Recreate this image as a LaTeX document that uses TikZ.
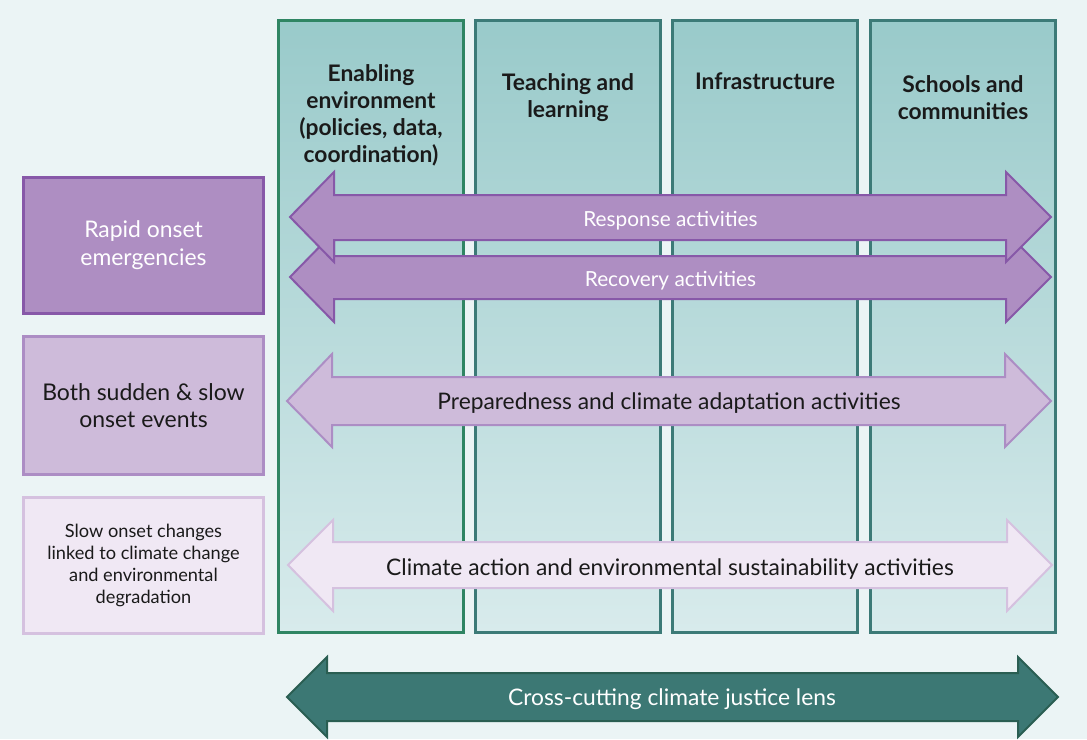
\documentclass[tikz,border=0pt]{standalone}
\usepackage{fontspec}
\setmainfont{Lato}

\definecolor{bgpale}{HTML}{EBF4F5}
\definecolor{coltop}{HTML}{99CACA}
\definecolor{colbottom}{HTML}{D8EBEC}
\definecolor{colgreen}{HTML}{2F8563}
\definecolor{colteal}{HTML}{3C7A77}
\definecolor{rapidfill}{HTML}{AE8EC2}
\definecolor{rapidline}{HTML}{8758A8}
\definecolor{bothfill}{HTML}{CEBBDA}
\definecolor{bothline}{HTML}{AC8DC4}
\definecolor{slowfill}{HTML}{F0E8F4}
\definecolor{slowline}{HTML}{D5C1DF}
\definecolor{crossfill}{HTML}{3C7874}
\definecolor{crossline}{HTML}{2A5E52}
\definecolor{ink}{HTML}{1A1A1A}

\begin{document}
\begin{tikzpicture}[x=1pt,y=-1pt,
    column/.style={line width=3pt,top color=coltop,bottom color=colbottom},
    head/.style={font=\fontsize{22.8}{27}\selectfont\bfseries,align=center,text=ink},
    onset/.style={line width=3pt,minimum width=240pt,align=center},
    band/.style={line width=2pt,line join=miter},
    bandtext/.style={font=\fontsize{22.8}{26}\selectfont,text=ink}]

    \fill[bgpale] (0,0) rectangle (1087,739);
    \useasboundingbox (0,0) rectangle (1087,739);

    % columns
    \path[column,draw=colgreen] (278.5,20.5) rectangle (463.5,632.5);
    \path[column,draw=colteal] (475.5,20.5) rectangle (660.5,632.5);
    \path[column,draw=colteal] (672.5,20.5) rectangle (857.5,632.5);
    \path[column,draw=colteal] (870.5,20.5) rectangle (1055.5,632.5);

    \node[head] (enabling) at (371,115) {Enabling\\environment\\(policies, data,\\coordination)};
    \node[head] (teaching) at (568,98) {Teaching and\\learning};
    \node[head] (infra) at (765,81) {Infrastructure};
    \node[head] (schools) at (963,98) {Schools and\\communities};

    % onset boxes
    \node[onset,draw=rapidline,fill=rapidfill,minimum height=136pt,text=white,
        font=\fontsize{22.9}{28}\selectfont] (rapid) at (143.5,245.5) {Rapid onset\\emergencies};
    \node[onset,draw=bothline,fill=bothfill,minimum height=138pt,text=ink,
        font=\fontsize{23}{27}\selectfont] (both) at (143.5,405.5) {Both sudden \& slow\\onset events};
    \node[onset,draw=slowline,fill=slowfill,minimum height=136pt,text=ink,
        font=\fontsize{18.2}{22}\selectfont] (slow) at (143.5,565.5) {Slow onset changes\\linked to climate change\\and environmental\\degradation};

    % activity arrows
    \draw[band,draw=rapidline,fill=rapidfill] (290,277) -- (334,232) -- (334,256) -- (1006,256) -- (1006,232)
        -- (1051,277) -- (1006,322) -- (1006,299) -- (334,299) -- (334,322) -- cycle;
    \node[bandtext,text=white,font=\fontsize{20.8}{24}\selectfont] (recovery) at (670.5,281) {Recovery activities};

    \draw[band,draw=rapidline,fill=rapidfill] (290,217) -- (334,172) -- (334,195) -- (1006,195) -- (1006,172)
        -- (1051,217) -- (1006,262) -- (1006,240) -- (334,240) -- (334,262) -- cycle;
    \node[bandtext,text=white,font=\fontsize{20.8}{24}\selectfont] (response) at (670.5,221) {Response activities};

    \draw[band,draw=bothline,fill=bothfill] (287,401) -- (332,354) -- (332,377) -- (1005,377) -- (1005,354)
        -- (1051,401) -- (1005,447) -- (1005,425) -- (332,425) -- (332,447) -- cycle;
    \node[bandtext] (prepared) at (669,403) {Preparedness and climate adaptation activities};

    \draw[band,draw=slowline,fill=slowfill] (288,565) -- (333,520) -- (333,542) -- (1007,542) -- (1007,520)
        -- (1052,565) -- (1007,611) -- (1007,588) -- (333,588) -- (333,611) -- cycle;
    \node[bandtext] (climate) at (670,569) {Climate action and environmental sustainability activities};

    % justice lens
    \draw[band,draw=crossline,fill=crossfill] (287,697) -- (327,657) -- (327,673) -- (1018,673) -- (1018,657)
        -- (1058,697) -- (1018,737) -- (1018,721) -- (327,721) -- (327,737) -- cycle;
    \node[bandtext,text=white] (lens) at (672,699) {Cross-cutting climate justice lens};
\end{tikzpicture}
\end{document}
